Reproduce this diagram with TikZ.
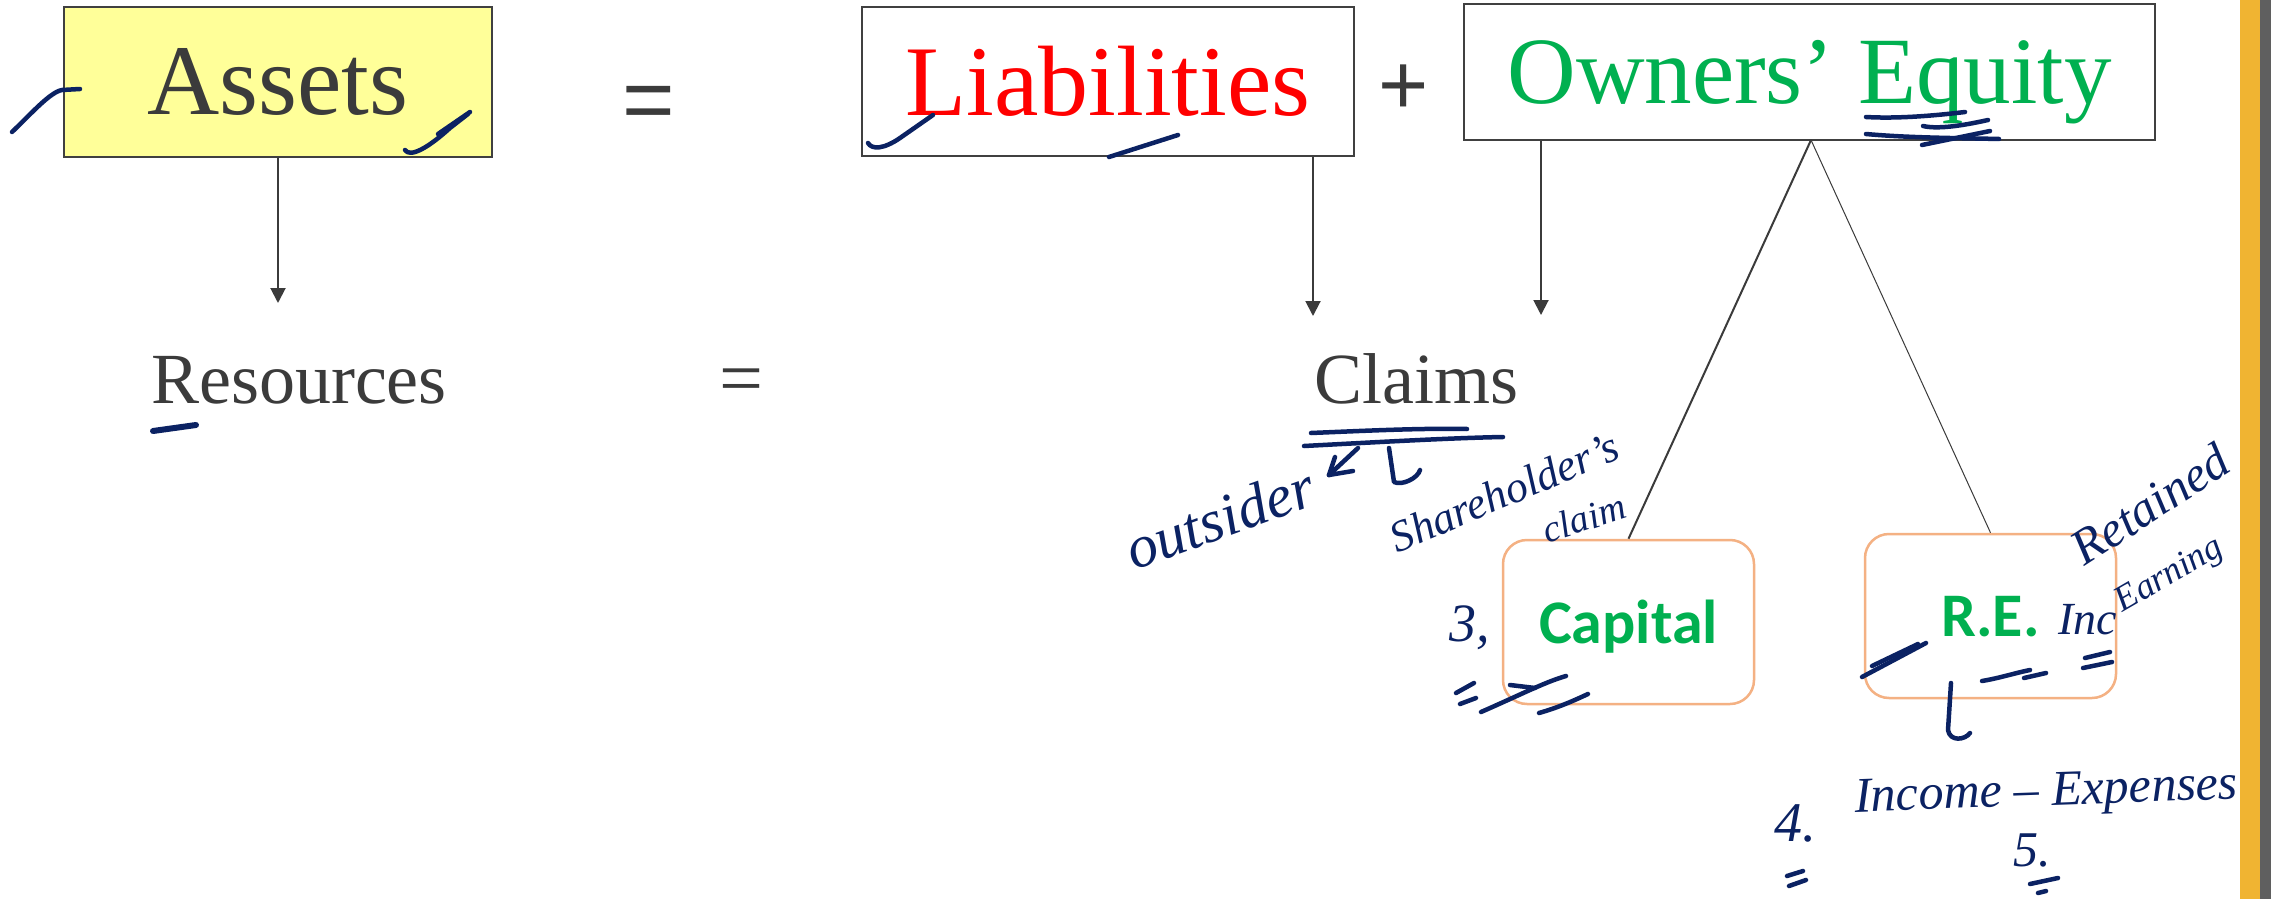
\documentclass[tikz,border=0pt]{standalone}
\usepackage{fontspec}
\setmainfont{Liberation Serif}
\newfontfamily\arialf{Liberation Sans}
\newfontfamily\calibf{Carlito}
\usetikzlibrary{arrows.meta}
\definecolor{txtgray}{HTML}{3B3B3B}
\definecolor{boxgray}{HTML}{404040}
\definecolor{assetyel}{HTML}{FFFF99}
\definecolor{lred}{HTML}{FF0000}
\definecolor{eqgreen}{HTML}{00B050}
\definecolor{peach}{HTML}{F4B183}
\definecolor{ink}{HTML}{0B2263}
\definecolor{barorange}{HTML}{F0B432}
\definecolor{bargray}{HTML}{5F5F5F}
\begin{document}
\begin{tikzpicture}[x=1pt,y=-1pt,
  eqbox/.style={draw=boxgray,line width=1.6pt,inner sep=0pt},
  arr/.style={draw=txtgray,line width=2pt,-{Triangle[width=15pt,length=15pt]}},
  subbox/.style={draw=peach,line width=2.5pt,rounded corners=24pt,minimum width=251pt,minimum height=164pt,inner sep=0pt,text=eqgreen,text depth=0pt,font=\calibf\bfseries\fontsize{62}{70}\selectfont},
  pen/.style={draw=ink,line width=4.5pt,line cap=round,line join=round},
  hand/.style={text=ink,inner sep=0pt,font=\itshape\fontsize{#1}{#1}\selectfont},
  word/.style={text=txtgray,inner sep=0pt,font=\fontsize{72}{80}\selectfont},
]
\useasboundingbox (0,0) rectangle (2271,899);
\fill[white] (0,0) rectangle (2271,899);
\fill[barorange] (2240,0) rectangle (2260,899);
\fill[bargray] (2260,0) rectangle (2271,899);

% top row boxes
\node[eqbox,fill=assetyel,minimum width=428pt,minimum height=150pt,text=txtgray,font=\fontsize{100}{110}\selectfont] (assets) at (278,82) {Assets};
\node[inner sep=0pt,text=txtgray,font=\arialf\fontsize{90}{90}\selectfont] (eq1) at (648.5,108) {=};
\node[eqbox,minimum width=492pt,minimum height=149pt,text=lred,font=\fontsize{100}{110}\selectfont] (liab) at (1108,81.5) {Liabilities};
\node[inner sep=0pt,text=txtgray,font=\arialf\fontsize{86}{86}\selectfont] (plus) at (1404,90) {+};
\node[eqbox,minimum width=691pt,minimum height=136pt,text=eqgreen,text depth=0pt,font=\fontsize{95}{100}\selectfont] (owners) at (1809.5,72) {Owners’ Equity};

% second row
\node[word,anchor=base] (res) at (299,403) {Resources};
\node[inner sep=0pt,text=txtgray,font=\fontsize{78}{78}\selectfont] (eq2) at (741.5,387) {=};
\node[word,anchor=base] (claims) at (1416,403) {Claims};

% arrows
\coordinate (at) at (278,303);
\coordinate (lt) at (1313,316);
\coordinate (ot) at (1541,315);
\draw[arr] (assets.south -| at) -- (at);
\draw[arr] (liab.south -| lt) -- (lt);
\draw[arr] (owners.south -| ot) -- (ot);

% sub boxes
\node[subbox] (cap) at (1628.5,622) {Capital};
\node[subbox] (re) at (1990.5,616) {R.E.};
\coordinate (apex) at (1811,140);
\draw[txtgray,line width=2pt] (apex) -- (cap.north);
\draw[txtgray,line width=1pt] (apex) -- (re.north);

% ---- handwritten ink ----
% Assets
\draw[pen] (12,132) .. controls (30,115) and (50,92) .. (62,90) -- (80,89);
\draw[pen] (405,150) .. controls (410,158) and (428,148) .. (450,128) -- (468,114);
\draw[pen] (438,134) -- (470,112);
% Resources
\draw[pen,line width=6pt] (153,431) -- (196,425);
% Liabilities
\draw[pen] (868,143) .. controls (872,150) and (884,149) .. (900,138) -- (933,115);
\draw[pen] (1109,157) -- (1178,135);
% Equity
\draw[pen] (1866,117) .. controls (1900,119) and (1940,115) .. (1965,112);
\draw[pen] (1923,126) .. controls (1940,130) and (1970,124) .. (1988,120);
\draw[pen] (1866,134) .. controls (1910,138) and (1960,138) .. (1999,139);
\draw[pen] (1922,145) -- (1990,131);
% Claims underline
\draw[pen] (1311,433) .. controls (1360,431) and (1420,428) .. (1467,429);
\draw[pen] (1304,446) .. controls (1380,442) and (1450,438) .. (1503,437);
% little arrow to outsider
\draw[pen] (1358,448) -- (1329,475);
\draw[pen] (1329,475) -- (1353,471);
\draw[pen] (1329,475) -- (1335,457);
\draw[pen] (1389,448) -- (1394,482) .. controls (1402,486) and (1418,478) .. (1420,470);
\node[hand=60,rotate=20] (outs) at (1220,518) {outsider};
\node[hand=44,rotate=23] (share) at (1504,492) {Shareholder’s};
\node[hand=38,rotate=18] (claimw) at (1584,518) {claim};
% Capital notes
\node[hand=54] (three) at (1470,628) {3,};
\draw[pen] (1456,693) -- (1474,683);
\draw[pen] (1460,704) -- (1476,698);
\draw[pen] (1481,712) .. controls (1520,695) and (1545,682) .. (1566,676);
\draw[pen] (1510,685) -- (1535,688);
\draw[pen] (1539,713) .. controls (1560,707) and (1575,700) .. (1588,694);
% R.E. notes
\draw[pen] (1862,677) -- (1926,643);
\draw[pen] (1872,666) -- (1918,644);
\draw[pen] (1982,681) .. controls (2000,678) and (2015,673) .. (2030,670);
\draw[pen] (2024,678) -- (2046,673);
\node[hand=46] (inc) at (2088,620) {Inc};
\draw[pen] (2085,658) -- (2110,652);
\draw[pen] (2083,668) -- (2112,662);
\node[hand=50,rotate=33] (retd) at (2150,504) {Retained};
\node[hand=36,rotate=30] (earn) at (2170,576) {Earning};
\draw[pen] (1951,683) -- (1948,730) .. controls (1950,742) and (1965,740) .. (1970,733);
% Income - Expenses
\node[hand=56] (four) at (1795,823) {4.};
\draw[pen] (1787,876) -- (1803,871);
\draw[pen] (1789,886) -- (1806,880);
\node[hand=50,anchor=base west,rotate=2] (incexp) at (1855,812) {Income – Expenses};
\node[hand=50] (five) at (2032,850) {5.};
\draw[pen] (2030,884) -- (2058,878);
\draw[pen] (2038,893) -- (2046,891);
\end{tikzpicture}
\end{document}
